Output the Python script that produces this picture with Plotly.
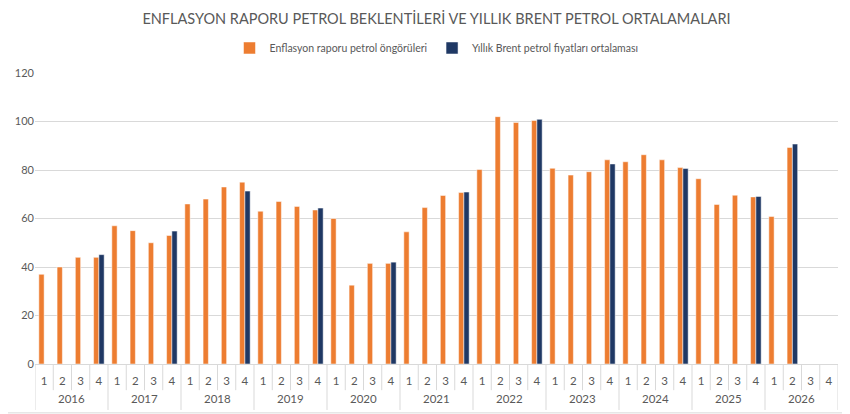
import plotly.graph_objects as go

years = ["2016", "2017", "2018", "2019", "2020", "2021",
         "2022", "2023", "2024", "2025", "2026"]
quarters = ["1", "2", "3", "4"]

# Enflasyon raporu petrol öngörüleri (her çeyrek)
forecast = [
    37, 40, 44, 44,
    57, 55, 50, 53,
    66, 68, 73, 75,
    63, 67, 65, 63.5,
    60, 32.5, 41.5, 41.5,
    54.5, 64.5, 69.5, 70.7,
    80.2, 102, 99.6, 100.4,
    80.7, 77.9, 79.3, 84.2,
    83.4, 86.3, 84.2, 81,
    76.4, 65.8, 69.6, 68.9,
    60.8, 89.3, None, None,
]

# Yıllık Brent petrol fiyatları ortalaması
brent = [
    None, None, None, 45.1,
    None, None, None, 54.8,
    None, None, None, 71.3,
    None, None, None, 64.3,
    None, None, None, 42,
    None, None, None, 70.9,
    None, None, None, 100.9,
    None, None, None, 82.5,
    None, None, None, 80.6,
    None, None, None, 69.1,
    None, 90.7, None, None,
]

n_q = len(quarters)
idx = list(range(len(years) * n_q))
quarter_labels = [q for _ in years for q in quarters]

fig = go.Figure()
fig.add_trace(go.Bar(
    x=idx, y=forecast,
    name="Enflasyon raporu petrol öngörüleri",
    marker_color="#ED7D31",
))
fig.add_trace(go.Bar(
    x=idx, y=brent,
    name="Yıllık Brent petrol fiyatları ortalaması",
    marker_color="#1F3864",
))

# Excel style two-row category axis: quarter cells and year cells
grid = "#D9D9D9"
shapes = []
for i in range(len(idx) + 1):
    year_edge = i % n_q == 0
    shapes.append(dict(
        type="line", xref="x", yref="paper",
        x0=i - 0.5, x1=i - 0.5, y0=0, y1=-0.158 if year_edge else -0.09,
        line=dict(color=grid, width=1),
    ))
# outer frame (bottom and right)
shapes.append(dict(type="line", xref="paper", yref="paper",
                   x0=-0.034, x1=1.012, y0=-0.168, y1=-0.168,
                   line=dict(color=grid, width=1)))
shapes.append(dict(type="line", xref="paper", yref="paper",
                   x0=1.012, x1=1.012, y0=-0.168, y1=1.22,
                   line=dict(color=grid, width=1)))

annotations = [
    dict(text=y, xref="x", yref="paper", x=k * n_q + (n_q - 1) / 2, y=-0.117,
         showarrow=False, yanchor="middle",
         font=dict(size=11.5, color="#595959"))
    for k, y in enumerate(years)
]

# the page adds an 8px body margin, so the figure is sized to fit inside it
fig.update_layout(
    width=842, height=406,
    margin=dict(l=27, r=12, t=65, b=50),
    template="plotly_white",
    plot_bgcolor="white",
    paper_bgcolor="white",
    font=dict(family="Lato", color="#595959", size=11),
    title=dict(
        text="ENFLASYON RAPORU PETROL BEKLENTİLERİ VE YILLIK BRENT PETROL ORTALAMALARI",
        x=0.5, xref="paper", y=0.973, yanchor="middle",
        font=dict(size=14.5, color="#595959"),
    ),
    barmode="group",
    bargap=0.42,
    bargroupgap=0,
    showlegend=True,
    legend=dict(
        orientation="h", x=0.5, xanchor="center", y=1.086, yanchor="middle",
        font=dict(size=10.5, color="#595959"),
        itemwidth=30,
    ),
    yaxis=dict(
        range=[0, 120], dtick=20,
        gridcolor=grid, zeroline=False,
        showline=False, ticks="",
        automargin=False,
        tickfont=dict(size=11, color="#595959"),
    ),
    xaxis=dict(
        range=[-0.5, len(idx) - 0.5],
        tickmode="array", tickvals=idx, ticktext=quarter_labels,
        showgrid=False, zeroline=False,
        showline=True, linecolor=grid,
        ticks="", ticklabelstandoff=6,
        automargin=False,
        tickfont=dict(size=11.5, color="#595959"),
    ),
    shapes=shapes,
    annotations=annotations,
)

fig.write_html("out.html")
